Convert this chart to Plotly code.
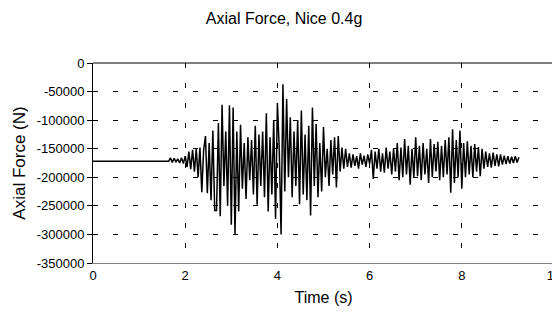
import plotly.graph_objects as go

# Axial force record (N)
t_flat = [0.0, 1.6]
f_flat = [-172000, -172000]

sample_start = 1.64   # s, first sample of the shaking record
sample_step = 0.04    # s, sampling interval
force = [
    -172000, -166000, -174000, -167000, -173000, -168000, -175000, -166000, -176000, -163000,
    -182000, -155000, -186000, -152000, -190000,
    -150000, -200000, -148000, -226000, -152000,
    -128000, -228000, -140000, -240000, -118000, -258000,
    -258000, -105000, -268000, -73000, -215000, -120000, -250000, -74000, -283000, -78000,
    -300000, -120000, -260000, -108000,
    -220000, -140000, -238000, -130000, -205000,
    -135000, -230000, -110000, -248000, -125000, -215000, -120000, -235000, -88000, -260000,
    -130000, -230000, -100000, -273000, -70000,
    -150000, -300000, -37000, -225000, -63000,
    -200000, -95000, -235000, -120000, -215000, -100000, -247000, -83000, -230000, -125000,
    -240000, -110000, -267000, -78000, -215000, -107000, -235000, -140000, -225000, -112000,
    -200000, -150000, -215000, -135000, -195000, -130000, -218000, -128000, -190000, -148000,
    -185000, -150000, -182000, -158000,
    -183000, -160000, -180000, -163000, -185000, -158000, -178000, -162000, -182000, -160000,
    -176000, -152000, -203000, -155000, -185000, -150000, -190000, -158000, -192000, -148000,
    -185000, -155000, -195000, -150000,
    -190000, -140000, -205000, -148000, -200000, -133000, -195000, -145000, -213000, -150000,
    -200000, -130000, -198000, -145000, -205000, -140000, -195000, -150000, -210000, -133000,
    -200000, -142000, -190000, -138000, -205000, -145000, -200000,
    -135000, -195000, -130000, -227000, -116000, -210000, -135000, -200000, -118000, -220000,
    -140000, -200000, -137000, -195000, -145000, -200000, -142000, -190000, -147000, -198000,
    -150000,
    -185000, -155000, -182000, -158000, -183000, -157000, -180000, -160000, -181000, -160000,
    -178000, -162000, -177000, -163000, -176000, -164000, -175000, -163000, -174000, -165000,
]
t_samples = [round(sample_start + i * sample_step, 3) for i in range(len(force))]

time = t_flat + t_samples
axial = f_flat + force

# Axis ticks
x_tick_vals = [0, 2, 4, 6, 8, 10]
x_tick_labels = ["0", "2", "4", "6", "8", "10"]
y_tick_vals = [0, -50000, -100000, -150000, -200000, -250000, -300000, -350000]
y_tick_labels = ["0", "-50000", "-100000", "-150000", "-200000", "-250000", "-300000", "-350000"]

FONT = "Liberation Sans, Arial, sans-serif"

fig = go.Figure()
fig.add_trace(go.Scatter(
    x=time, y=axial, mode="lines",
    line=dict(color="#000000", width=1.5),
    showlegend=False, hoverinfo="skip",
))

fig.update_layout(
    width=560, height=320,
    margin=dict(l=85, r=14, t=55, b=65),
    paper_bgcolor="#ffffff", plot_bgcolor="#ffffff",
    font=dict(family=FONT, size=13, color="#000000"),
    title=dict(text="Axial Force, Nice 0.4g", x=0.493, xref="container", xanchor="center",
               y=0.969, yref="container", yanchor="middle",
               font=dict(family=FONT, size=16, color="#000000")),
)

fig.update_xaxes(
    range=[0, 10], tickmode="array", tickvals=x_tick_vals, ticktext=x_tick_labels,
    showline=True, linecolor="#808080", linewidth=1,
    showgrid=True, gridcolor="#000000", gridwidth=1, griddash="5px,15px",
    ticks="", zeroline=False, automargin=False,
    tickfont=dict(family=FONT, size=13, color="#000000"),
    title=dict(text="Time (s)", font=dict(family=FONT, size=16, color="#000000"), standoff=10),
)
fig.update_yaxes(
    range=[-350000, 0], tickmode="array", tickvals=y_tick_vals, ticktext=y_tick_labels,
    showline=True, linecolor="#000000", linewidth=1,
    showgrid=True, gridcolor="#000000", gridwidth=1, griddash="5px,15px",
    ticks="outside", ticklen=5, tickcolor="#000000", zeroline=False, automargin=False,
    tickfont=dict(family=FONT, size=13, color="#000000"),
    title=dict(text="Axial Force (N)", font=dict(family=FONT, size=17, color="#000000"), standoff=6),
)

# plot-area frame: black top edge, grey right edge
fig.add_shape(type="line", xref="paper", yref="paper", x0=0, x1=1, y0=1, y1=1,
              line=dict(color="#000000", width=1))
fig.add_shape(type="line", xref="paper", yref="paper", x0=1, x1=1, y0=0, y1=1,
              line=dict(color="#808080", width=1))

fig.write_html("out.html")
